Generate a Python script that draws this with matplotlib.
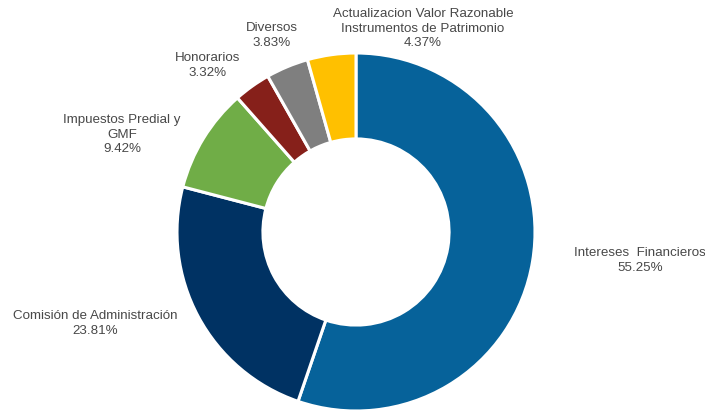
import matplotlib
matplotlib.use("Agg")
import matplotlib.pyplot as plt

categories = ["Intereses  Financieros", "Comisión de Administración",
              "Impuestos Predial y\nGMF", "Honorarios", "Diversos",
              "Actualizacion Valor Razonable\nInstrumentos de Patrimonio"]
values = [55.25, 23.81, 9.42, 3.32, 3.83, 4.37]
colors = ["#06629A", "#003263", "#70AD47", "#86201A", "#7F7F7F", "#FFC000"]

# label anchor positions in pixels (center x, top y) of the figure
label_pix = [(640, 247), (95, 310), (122, 114), (208, 52), (272, 22), (423, 8)]

W, H = 705, 411
fig = plt.figure(figsize=(W / 100, H / 100), dpi=100)
cx, cy, R = 356, 232, 179
ax = fig.add_axes([(cx - R) / W, (H - cy - R) / H, 2 * R / W, 2 * R / H])

ax.pie(values, colors=colors, startangle=90, counterclock=False, radius=1.0,
       wedgeprops=dict(width=0.48, edgecolor="white", linewidth=2.2))
ax.set_xlim(-1, 1)
ax.set_ylim(-1, 1)
ax.axis("off")

for name, v, (px, py) in zip(categories, values, label_pix):
    xd = (px - cx) / R
    yd = (cy - py) / R
    ax.text(xd, yd, f"{name}\n{v:.2f}%", ha="center", va="top",
            fontsize=9.6, family="Liberation Sans", color="#484848",
            linespacing=1.3, clip_on=False)

fig.savefig("out.png", dpi=100)
